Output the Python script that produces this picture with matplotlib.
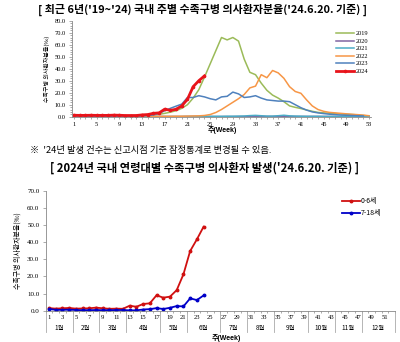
import matplotlib.pyplot as plt
import matplotlib.transforms as mtransforms
from matplotlib.lines import Line2D

plt.rcParams['font.family'] = ['Noto Sans CJK KR', 'DejaVu Sans']

# ---- top chart data: weekly HFMD rate (per 1,000) ----
weeks = list(range(1, 54))
y2019 = [1.0, 0.9, 0.9, 0.8, 0.8, 0.7, 0.7, 0.7, 0.7, 0.8, 0.8, 0.9, 1.0, 1.2, 1.5, 2.0,
         2.8, 3.8, 5.0, 7.0, 10.0, 15.5, 22.5, 33.0, 44.0, 55.0, 66.0, 64.0, 66.0, 63.0,
         48.0, 37.0, 35.0, 28.0, 22.0, 18.0, 15.5, 12.5, 9.0, 7.8, 6.8, 5.6, 4.5, 3.6,
         3.2, 2.9, 2.6, 2.3, 2.0, 1.8, 1.5, 1.0, 0.6]
y2020 = [0.8, 0.8, 0.7, 0.6, 0.5, 0.3, 0.2, 0.1, 0.1, 0.1, 0.1, 0.1, 0.1, 0.1, 0.1, 0.1,
         0.1, 0.1, 0.1, 0.1, 0.1, 0.1, 0.1, 0.1, 0.1, 0.1, 0.1, 0.1, 0.1, 0.1, 0.1, 0.1,
         0.2, 0.2, 0.2, 0.2, 0.2, 0.2, 0.2, 0.2, 0.2, 0.2, 0.2, 0.2, 0.2, 0.2, 0.1, 0.1,
         0.1, 0.1, 0.1, 0.1, 0.1]
y2021 = [0.1, 0.1, 0.1, 0.1, 0.1, 0.1, 0.1, 0.1, 0.1, 0.1, 0.1, 0.1, 0.1, 0.1, 0.1, 0.1,
         0.1, 0.1, 0.1, 0.1, 0.2, 0.2, 0.2, 0.2, 0.3, 0.3, 0.3, 0.4, 0.4, 0.5, 0.6, 0.9,
         1.1, 0.8, 0.5, 0.5, 0.8, 1.2, 0.7, 0.5, 0.4, 0.3, 0.3, 0.3, 0.2, 0.2, 0.2, 0.2,
         0.2, 0.2, 0.2, 0.2, 0.2]
y2022 = [0.4, 0.4, 0.4, 0.3, 0.3, 0.3, 0.3, 0.3, 0.3, 0.3, 0.3, 0.3, 0.3, 0.3, 0.3, 0.3,
         0.3, 0.3, 0.4, 0.4, 0.5, 0.6, 0.7, 1.0, 1.8, 3.5, 6.0, 9.0, 12.0, 15.0, 18.5, 24.0,
         25.5, 35.0, 32.5, 38.5, 36.5, 32.0, 25.0, 21.0, 19.5, 14.0, 9.0, 6.0, 4.5, 3.6,
         3.2, 2.8, 2.4, 2.0, 1.7, 1.3, 0.8]
y2023 = [0.5, 0.4, 0.4, 0.4, 0.4, 0.4, 0.4, 0.4, 0.4, 0.4, 0.4, 0.5, 0.6, 0.9, 1.5, 2.8,
         5.0, 7.0, 8.8, 10.5, 16.0, 16.0, 17.5, 16.5, 15.0, 14.0, 16.5, 17.0, 20.5, 19.0,
         16.0, 16.5, 17.5, 15.5, 14.0, 13.5, 13.0, 13.0, 12.5, 10.0, 7.5, 5.5, 4.0, 3.2,
         2.6, 2.1, 1.7, 1.4, 1.2, 1.0, 0.8, 0.6]
y2024 = [1.2, 1.1, 1.1, 1.2, 1.1, 1.1, 1.1, 1.3, 1.2, 1.0, 1.0, 1.0, 1.5, 1.8, 2.8, 3.2,
         6.3, 5.3, 6.2, 9.0, 14.5, 25.0, 30.0, 34.0]

series_top = [("2019", y2019, "#9BBB59"), ("2020", y2020, "#8064A2"),
              ("2021", y2021, "#4BACC6"), ("2022", y2022, "#F79646"),
              ("2023", y2023, "#4F81BD")]

# ---- bottom chart data: 2024 by age group ----
weeks_age = list(range(1, 25))
age_0_6 = [1.5, 1.2, 1.4, 1.6, 1.2, 1.3, 1.4, 1.8, 1.4, 1.1, 1.2, 1.1, 2.9, 2.3, 3.9, 4.3,
           9.0, 7.6, 8.2, 12.0, 21.2, 34.8, 41.6, 49.0]
age_7_18 = [1.0, 0.5, 0.5, 0.6, 0.4, 0.3, 0.3, 0.4, 0.3, 0.3, 0.4, 0.4, 0.2, 0.2, 0.7, 0.9,
            1.5, 1.0, 1.7, 2.7, 2.5, 7.2, 6.2, 8.9]
months = ["1월", "2월", "3월", "4월", "5월", "6월", "7월", "8월", "9월", "10월", "11월", "12월"]
month_edges = [0.5, 4.5, 8.5, 12.5, 17.5, 21.5, 26.5, 30.5, 34.5, 39.5, 43.5, 47.5, 52.5]

W, H = 400, 342
fig = plt.figure(figsize=(4.0, 3.42), dpi=100)
tick_font = ['Liberation Serif', 'Noto Sans CJK KR']
grey = "#888888"

fig.text(0.505, 1 - 10 / H, "[ 최근 6년('19~'24) 국내 주별 수족구병 의사환자분율('24.6.20. 기준) ]",
         ha="center", va="center", fontsize=7.9, fontweight="bold")
fig.text(30 / W, 1 - 150 / H, "※  '24년 발생 건수는 신고시점 기준 잠정통계로 변경될 수 있음.",
         ha="left", va="center", fontsize=6.7)
fig.text(0.51, 1 - 168 / H, "[ 2024년 국내 연령대별 수족구병 의사환자 발생('24.6.20. 기준) ]",
         ha="center", va="center", fontsize=8.1, fontweight="bold")

# ---------------- top chart ----------------
ax1 = fig.add_axes([72 / W, 1 - 116.7 / H, 298.7 / W, 96 / H])
for name, vals, col in series_top:
    ax1.plot(weeks[:len(vals)], vals, color=col, lw=1.1, label=name)
ax1.plot(weeks[:len(y2024)], y2024, color="#E8141B", lw=2.0, marker="o", ms=1.6, label="2024")
ax1.set_xlim(0.647, 53.3)
ax1.set_ylim(0, 80)
ax1.set_yticks(range(0, 81, 10))
ax1.set_yticklabels([f"{v:.1f}" for v in range(0, 81, 10)], family=tick_font, fontsize=4.6)
ax1.set_xticks(range(1, 54, 4))
ax1.set_xticklabels([str(w) for w in range(1, 54, 4)], family=tick_font, fontsize=4.6)
ax1.set_xticks(range(1, 54), minor=True)
ax1.set_yticks(range(0, 81, 2), minor=True)
ax1.tick_params(axis="both", which="both", direction="out", color=grey, length=1.5, width=0.5, pad=2)
ax1.tick_params(axis="y", which="major", length=2.5)
for s in ["top", "right"]:
    ax1.spines[s].set_visible(False)
for s in ["left", "bottom"]:
    ax1.spines[s].set_color(grey)
    ax1.spines[s].set_linewidth(0.6)
ax1.set_ylabel("수족구병 의사환자분율(‰)", fontsize=4.3, labelpad=3)
fig.text(222 / W, 1 - 130 / H, "주(Week)", ha="center", va="center", fontsize=5.0,
         family=['Liberation Sans', 'Noto Sans CJK KR'], fontweight="bold")
ax1.legend(loc="upper left", bbox_to_anchor=(0.865, 0.955), frameon=False,
           handlelength=2.8, labelspacing=0.32, handletextpad=0.2,
           prop={"family": tick_font, "size": 4.6})

# ---------------- bottom chart ----------------
ax2 = fig.add_axes([45.64 / W, 1 - 310.7 / H, 349.5 / W, 120 / H])
ax2.plot(weeks_age, age_0_6, color="#D01010", lw=1.3, marker="o", ms=1.8, label="0-6세")
ax2.plot(weeks_age, age_7_18, color="#0000C8", lw=1.3, marker="o", ms=1.8, label="7-18세")
ax2.set_xlim(0.5, 52.5)
ax2.set_ylim(0, 70)
ax2.set_yticks(range(0, 71, 10))
ax2.set_yticklabels([f"{v:.1f}" for v in range(0, 71, 10)], family=tick_font, fontsize=5.0)
ax2.set_xticks(range(1, 53, 2))
ax2.set_xticklabels([str(w) for w in range(1, 53, 2)], family=tick_font, fontsize=4.8)
ax2.set_xticks([w + 0.5 for w in range(0, 53)], minor=True)
ax2.tick_params(axis="x", which="major", length=0, pad=3)
ax2.tick_params(axis="x", which="minor", direction="out", color=grey, length=1.5, width=0.5)
ax2.tick_params(axis="y", which="major", direction="out", color=grey, length=2.5, width=0.5, pad=2)
for s in ["top", "right"]:
    ax2.spines[s].set_visible(False)
for s in ["left", "bottom"]:
    ax2.spines[s].set_color(grey)
    ax2.spines[s].set_linewidth(0.6)
ax2.set_ylabel("수족구병 의사환자분율(‰)", fontsize=5.0, labelpad=4)

trans = mtransforms.blended_transform_factory(ax2.transData, ax2.transAxes)
for e in month_edges:
    ax2.add_line(Line2D([e, e], [0, -0.175], transform=trans, color="#AAAAAA",
                        lw=0.6, clip_on=False))
for i, m in enumerate(months):
    c = (month_edges[i] + month_edges[i + 1]) / 2
    ax2.text(c, -0.142, m, transform=trans, ha="center", va="center", fontsize=4.6)
fig.text(226 / W, 1 - 338 / H, "주(Week)", ha="center", va="center", fontsize=5.0,
         family=['Liberation Sans', 'Noto Sans CJK KR'], fontweight="bold")
ax2.legend(loc="upper left", bbox_to_anchor=(0.83, 1.0), frameon=False,
           handlelength=2.6, labelspacing=0.6, handletextpad=0.1, fontsize=5.0)

fig.savefig("out.png", dpi=100)
